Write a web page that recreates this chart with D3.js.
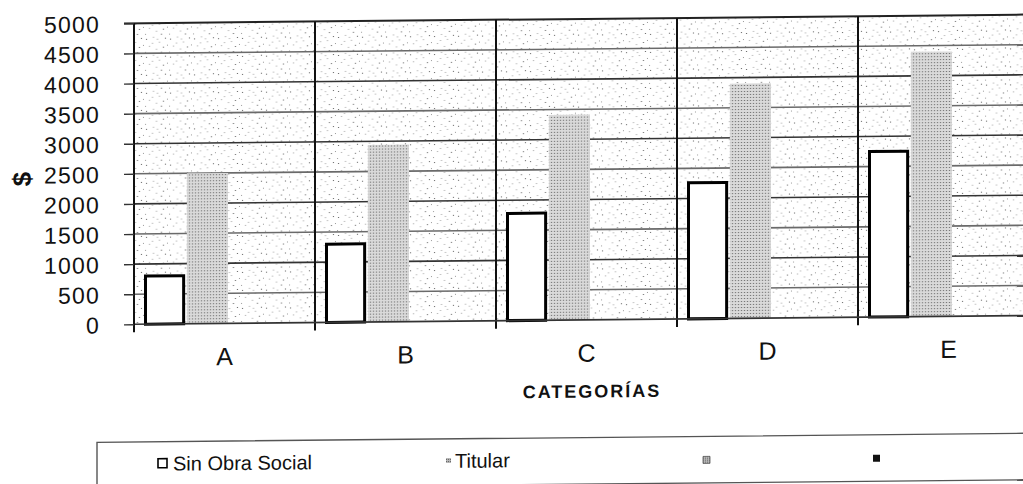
<!DOCTYPE html>
<html>
<head>
<meta charset="utf-8">
<script src="https://cdn.jsdelivr.net/npm/d3@7"></script>
<style>
  html, body { margin: 0; padding: 0; background: #fff; }
  svg { display: block; }
  text { font-family: "Liberation Sans", Arial, sans-serif; fill: #111; }
</style>
</head>
<body>
<svg id="chart" width="1023" height="484"></svg>
<script>
// ---- data ----
const categories = ["A", "B", "C", "D", "E"];
const seriesNames = ["Sin Obra Social", "Titular"];
const sinObraSocial = [800, 1300, 1780, 2260, 2750];
const titular = [2500, 2940, 3410, 3900, 4400];
const yTicks = [0, 500, 1000, 1500, 2000, 2500, 3000, 3500, 4000, 4500, 5000];
const legendLabels = ["Sin Obra Social", "Titular", "", ""];

const svg = d3.select("#chart");
const defs = svg.append("defs");

// sparse stipple for plot background
const bgPat = defs.append("pattern").attr("id", "bgdots")
  .attr("patternUnits", "userSpaceOnUse").attr("width", 24).attr("height", 18);
bgPat.append("rect").attr("width", 24).attr("height", 18).attr("fill", "#fff");
[[2,3],[9,1],[15,6],[21,2],[5,10],[12,13],[19,11],[1,16],[8,7],[17,16],[23,9],[13,3]]
  .forEach(([cx, cy], i) => bgPat.append("rect").attr("x", cx).attr("y", cy)
    .attr("width", 1).attr("height", 1).attr("fill", i % 3 ? "#9a9a9a" : "#555"));

// dense stipple for Titular bars
const barPat = defs.append("pattern").attr("id", "bardots")
  .attr("patternUnits", "userSpaceOnUse").attr("width", 3).attr("height", 3);
barPat.append("rect").attr("width", 3).attr("height", 3).attr("fill", "#dadada");
barPat.append("rect").attr("x", 1).attr("y", 1).attr("width", 1).attr("height", 1).attr("fill", "#444");

// small legend stipple
const legPat = defs.append("pattern").attr("id", "legdots")
  .attr("patternUnits", "userSpaceOnUse").attr("width", 2).attr("height", 2);
legPat.append("rect").attr("width", 2).attr("height", 2).attr("fill", "#bbb");
legPat.append("rect").attr("width", 1).attr("height", 1).attr("fill", "#555");

// whole page slightly sheared like the scan (verticals stay vertical)
const s = 0.0098;
const g = svg.append("g").attr("transform", `matrix(1,${-s},0,1,0,${s * 134})`);

const x0 = 134, step = 181;
const x = d3.scaleBand().domain(categories).range([x0, x0 + step * categories.length]).paddingInner(0).paddingOuter(0);
const xs = d3.scaleBand().domain(seriesNames).range([10, 94]).paddingInner(0.04);
const y = d3.scaleLinear().domain([0, 5000]).range([324.3, 23.3]);

// plot background
g.append("rect").attr("x", x0).attr("y", y(5000))
  .attr("width", step * categories.length).attr("height", y(0) - y(5000))
  .attr("fill", "url(#bgdots)");

// horizontal gridlines
g.append("g").selectAll("line").data(yTicks.filter(d => d > 0 && d < 5000)).join("line")
  .attr("x1", x0).attr("x2", x0 + step * 5)
  .attr("y1", d => y(d)).attr("y2", d => y(d))
  .attr("stroke", (d, i) => i % 2 ? "#333" : "#6a6a6a").attr("stroke-width", 1.6);

// top border
g.append("line").attr("x1", x0 - 10).attr("x2", x0 + step * 5)
  .attr("y1", y(5000)).attr("y2", y(5000)).attr("stroke", "#222").attr("stroke-width", 2);

// category separators
g.append("g").selectAll("line").data(categories.slice(1)).join("line")
  .attr("x1", d => x(d)).attr("x2", d => x(d))
  .attr("y1", y(5000)).attr("y2", y(0) + 8)
  .attr("stroke", "#111").attr("stroke-width", 2);

// bars
const cat = g.append("g").selectAll("g").data(categories).join("g")
  .attr("transform", d => `translate(${x(d)},0)`);
cat.append("rect")
  .attr("x", xs("Titular")).attr("width", xs.bandwidth())
  .attr("y", (d, i) => y(titular[i])).attr("height", (d, i) => y(0) - y(titular[i]))
  .attr("fill", "url(#bardots)");
cat.append("rect")
  .attr("x", xs("Sin Obra Social") + 1.5).attr("width", xs.bandwidth() - 3)
  .attr("y", (d, i) => y(sinObraSocial[i])).attr("height", (d, i) => y(0) - y(sinObraSocial[i]))
  .attr("fill", "#fff").attr("stroke", "#000").attr("stroke-width", 3);

// baseline
g.append("line").attr("x1", x0).attr("x2", x0 + step * 5)
  .attr("y1", y(0)).attr("y2", y(0)).attr("stroke", "#333").attr("stroke-width", 1.6);

// y axis
const yAxis = d3.axisLeft(y).tickValues(yTicks).tickSize(10).tickPadding(24).tickFormat(d3.format("d"));
const ya = g.append("g").attr("transform", `translate(${x0},0)`).call(yAxis);
ya.select(".domain").attr("stroke", "#111").attr("stroke-width", 2)
  .attr("d", `M0,${y(5000)}V${y(0) + 8}`);
ya.selectAll(".tick line").attr("stroke", "#333").attr("stroke-width", 1.4);
ya.selectAll(".tick text")
  .style("font-family", "'Liberation Sans', Arial, sans-serif")
  .style("font-size", "23px").attr("fill", "#111").attr("letter-spacing", "1.2px")
  .attr("dy", "0.36em");

// x labels
g.append("g").selectAll("text").data(categories).join("text")
  .attr("x", d => x(d) + x.bandwidth() / 2).attr("y", 366)
  .attr("text-anchor", "middle").style("font-size", "25px").text(d => d);

// axis titles
g.append("text").attr("x", 592).attr("y", 402).attr("text-anchor", "middle")
  .style("font-size", "18px").style("font-weight", "bold").attr("letter-spacing", "2px")
  .text("CATEGORÍAS");
g.append("text").attr("transform", "translate(31,178) rotate(-90)")
  .attr("text-anchor", "middle").style("font-size", "26px").style("font-weight", "bold")
  .text("$");

// legend box
g.append("path").attr("d", "M97,490V442H1030").attr("fill", "none")
  .attr("stroke", "#555").attr("stroke-width", 1.4);
g.append("line").attr("x1", 97).attr("x2", 1030).attr("y1", 488.5).attr("y2", 488.5)
  .attr("stroke", "#555").attr("stroke-width", 1.4);

const legendX = [158, 446, 703, 873];
const legendFill = ["#fff", "url(#legdots)", "url(#legdots)", "#111"];
const leg = g.append("g").selectAll("g").data(legendLabels).join("g")
  .attr("transform", (d, i) => `translate(${legendX[i]},0)`);
leg.append("rect")
  .attr("x", 0).attr("y", (d, i) => i === 0 ? 459 : (i === 1 ? 461 : 462))
  .attr("width", (d, i) => i === 0 ? 9 : (i === 1 ? 5 : 7))
  .attr("height", (d, i) => i === 0 ? 9 : (i === 1 ? 5 : 7))
  .attr("fill", (d, i) => legendFill[i])
  .attr("stroke", (d, i) => i === 0 ? "#000" : (i === 2 ? "#555" : "none"))
  .attr("stroke-width", (d, i) => i === 0 ? 1.6 : 0.8);
leg.append("text").attr("x", (d, i) => i === 0 ? 15 : 9).attr("y", 471)
  .style("font-size", "20px").text(d => d);
</script>
</body>
</html>
